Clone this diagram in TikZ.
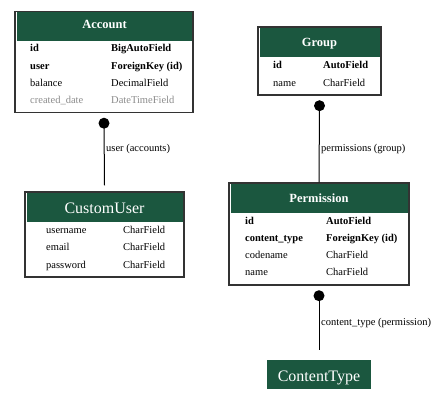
\documentclass[tikz,border=0pt]{standalone}
\usepackage{fontspec}
\setmainfont{Liberation Serif}
\usepackage{tikz}
\definecolor{ModelGreen}{RGB}{27,87,63}
\tikzset{
	ModelBox/.style={draw=black!80,line width=1.4pt,fill=white,inner sep=0pt},
	ModelHead/.style={fill=ModelGreen,inner sep=0pt},
	HeadText/.style={text=white,anchor=base,font=\fontsize{12.5}{14}\bfseries},
	BigHeadText/.style={text=white,anchor=base,font=\fontsize{16}{18}\selectfont},
	PlainField/.style={anchor=base west,inner sep=0pt,font=\fontsize{10.5}{12}\selectfont},
	KeyField/.style={PlainField,font=\fontsize{10.5}{12}\bfseries},
	MutedField/.style={PlainField,text=black!45},
	Link/.style={line width=1pt},
	LinkDot/.style={fill=black},
	LinkText/.style={anchor=base west,inner sep=0pt,font=\fontsize{10.5}{12}\selectfont}
		}

\begin{document}
\begin{tikzpicture}[x=1pt,y=-1pt]
	\def\rowsep{17.3}% distance between field rows
	\useasboundingbox (0,0) rectangle (439,404);

	% Account
	\node[ModelBox,minimum width=178pt,minimum height=101pt] (account) at (104,62) {};
	\node[ModelHead,minimum width=175pt,minimum height=29pt,anchor=north]
		(accounthead) at ([yshift=-1.2pt]account.north) {};
	\node[HeadText] (accounttitle) at (104.5,29) {Account};
	\foreach \fname/\ftype/\fsty [count=\i from 0] in {id/BigAutoField/KeyField,
		user/ForeignKey (id)/KeyField,balance/DecimalField/PlainField,
		created\_date/DateTimeField/MutedField}
		{\node[\fsty] (account-n\i) at (30,{52+\i*\rowsep}) {\fname};
		 \node[\fsty] (account-t\i) at (111,{52+\i*\rowsep}) {\ftype};}

	% CustomUser
	\node[ModelBox,minimum width=159pt,minimum height=85pt] (customuser) at (104.5,234.5) {};
	\node[ModelHead,minimum width=156pt,minimum height=29pt,anchor=north]
		(customuserhead) at ([yshift=-1.2pt]customuser.north) {};
	\node[BigHeadText] (customusertitle) at (104.5,213) {CustomUser};
	\foreach \fname/\ftype [count=\i from 0] in {username/CharField,
		email/CharField,password/CharField}
		{\node[PlainField] (customuser-n\i) at (46,{233.5+\i*\rowsep}) {\fname};
		 \node[PlainField] (customuser-t\i) at (123,{233.5+\i*\rowsep}) {\ftype};}

	% Group
	\node[ModelBox,minimum width=123pt,minimum height=68pt] (group) at (319.5,61) {};
	\node[ModelHead,minimum width=120pt,minimum height=29pt,anchor=north]
		(grouphead) at ([yshift=-1.2pt]group.north) {};
	\node[HeadText] (grouptitle) at (319.5,47) {Group};
	\foreach \fname/\ftype/\fsty [count=\i from 0] in {id/AutoField/KeyField,
		name/CharField/PlainField}
		{\node[\fsty] (group-n\i) at (273,{69+\i*\rowsep}) {\fname};
		 \node[\fsty] (group-t\i) at (323,{69+\i*\rowsep}) {\ftype};}

	% Permission
	\node[ModelBox,minimum width=180pt,minimum height=102pt] (permission) at (319,234) {};
	\node[ModelHead,minimum width=177pt,minimum height=29pt,anchor=north]
		(permissionhead) at ([yshift=-1.2pt]permission.north) {};
	\node[HeadText] (permissiontitle) at (319,202) {Permission};
	\foreach \fname/\ftype/\fsty [count=\i from 0] in {id/AutoField/KeyField,
		content\_type/ForeignKey (id)/KeyField,codename/CharField/PlainField,
		name/CharField/PlainField}
		{\node[\fsty] (permission-n\i) at (245,{224+\i*\rowsep}) {\fname};
		 \node[\fsty] (permission-t\i) at (326,{224+\i*\rowsep}) {\ftype};}

	% ContentType
	\node[ModelHead,minimum width=104pt,minimum height=29pt] (contenttype) at (319,374.5) {};
	\node[BigHeadText] (contenttypetitle) at (319,381) {ContentType};

	% links
	\coordinate (accountdot) at ([yshift=-10pt]account.south);
	\coordinate (groupdot) at ([yshift=-10pt]group.south);
	\coordinate (permissiondot) at ([yshift=-10pt]permission.south);
	\draw[Link] (accountdot) -- ([yshift=6pt]customuser.north);
	\draw[Link] (groupdot) -- (permission.north);
	\draw[Link] (permissiondot) -- ([yshift=10pt]contenttype.north);
	\fill[LinkDot] (accountdot) circle (5.5pt);
	\fill[LinkDot] (groupdot) circle (5.5pt);
	\fill[LinkDot] (permissiondot) circle (5.5pt);
	\node[LinkText] (accountlink) at (106,151) {user (accounts)};
	\node[LinkText] (grouplink) at (321,151) {permissions (group)};
	\node[LinkText] (permissionlink) at (321,325) {content\_type (permission)};
\end{tikzpicture}
\end{document}
